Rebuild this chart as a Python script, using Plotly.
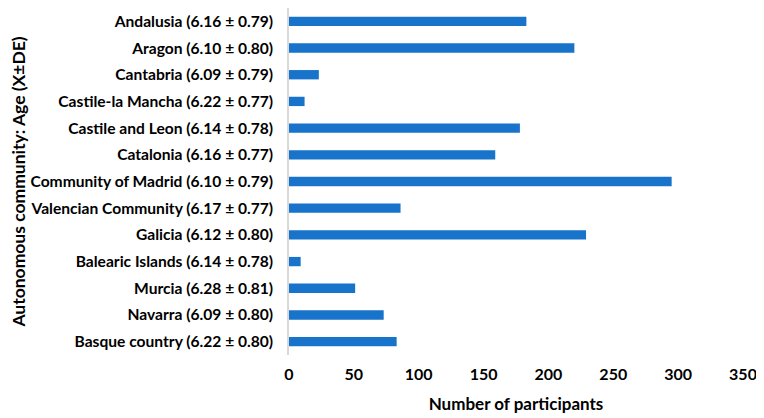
import plotly.graph_objects as go

categories = [
    "Andalusia (6.16 ± 0.79)",
    "Aragon (6.10 ± 0.80)",
    "Cantabria (6.09 ± 0.79)",
    "Castile-la Mancha (6.22 ± 0.77)",
    "Castile and Leon (6.14 ± 0.78)",
    "Catalonia (6.16 ± 0.77)",
    "Community of Madrid (6.10 ± 0.79)",
    "Valencian Community (6.17 ± 0.77)",
    "Galicia (6.12 ± 0.80)",
    "Balearic Islands (6.14 ± 0.78)",
    "Murcia (6.28 ± 0.81)",
    "Navarra (6.09 ± 0.80)",
    "Basque country (6.22 ± 0.80)",
]
participants = [183, 220, 23, 12, 178, 159, 295, 86, 229, 9, 51, 73, 83]
x_ticks = [0, 50, 100, 150, 200, 250, 300, 350]

font_family = "Lato, 'Open Sans', sans-serif"

fig = go.Figure(go.Bar(
    y=categories,
    x=participants,
    orientation="h",
    marker=dict(color="#1873CB", line=dict(width=0)),
))

# page body has an 8px default margin, figure sized to fit the window
fig.update_layout(
    width=756, height=410,
    margin=dict(l=281, r=21, t=0, b=63),
    paper_bgcolor="white",
    plot_bgcolor="white",
    bargap=0.65,
    showlegend=False,
    font=dict(family=font_family, color="#000000"),
)

fig.update_xaxes(
    range=[0, 350],
    tickvals=x_ticks,
    showgrid=False,
    zeroline=False,
    showline=False,
    automargin=False,
    ticklabelstandoff=8,
    tickfont=dict(size=16, family=font_family, weight="bold"),
    title=dict(text="<b>Number of participants</b>", font=dict(size=17), standoff=16),
    ticks="",
)

fig.update_yaxes(
    categoryorder="array",
    categoryarray=categories[::-1],
    showgrid=False,
    zeroline=False,
    showline=True,
    linecolor="#D9D9D9",
    linewidth=1.5,
    automargin=False,
    ticks="",
    ticklabelstandoff=11,
    tickfont=dict(size=15.6, family=font_family, weight="bold"),
    title=dict(text="<b>Autonomous community: Age (X±DE)</b>", font=dict(size=17.5), standoff=6),
)

fig.write_html("out.html")
